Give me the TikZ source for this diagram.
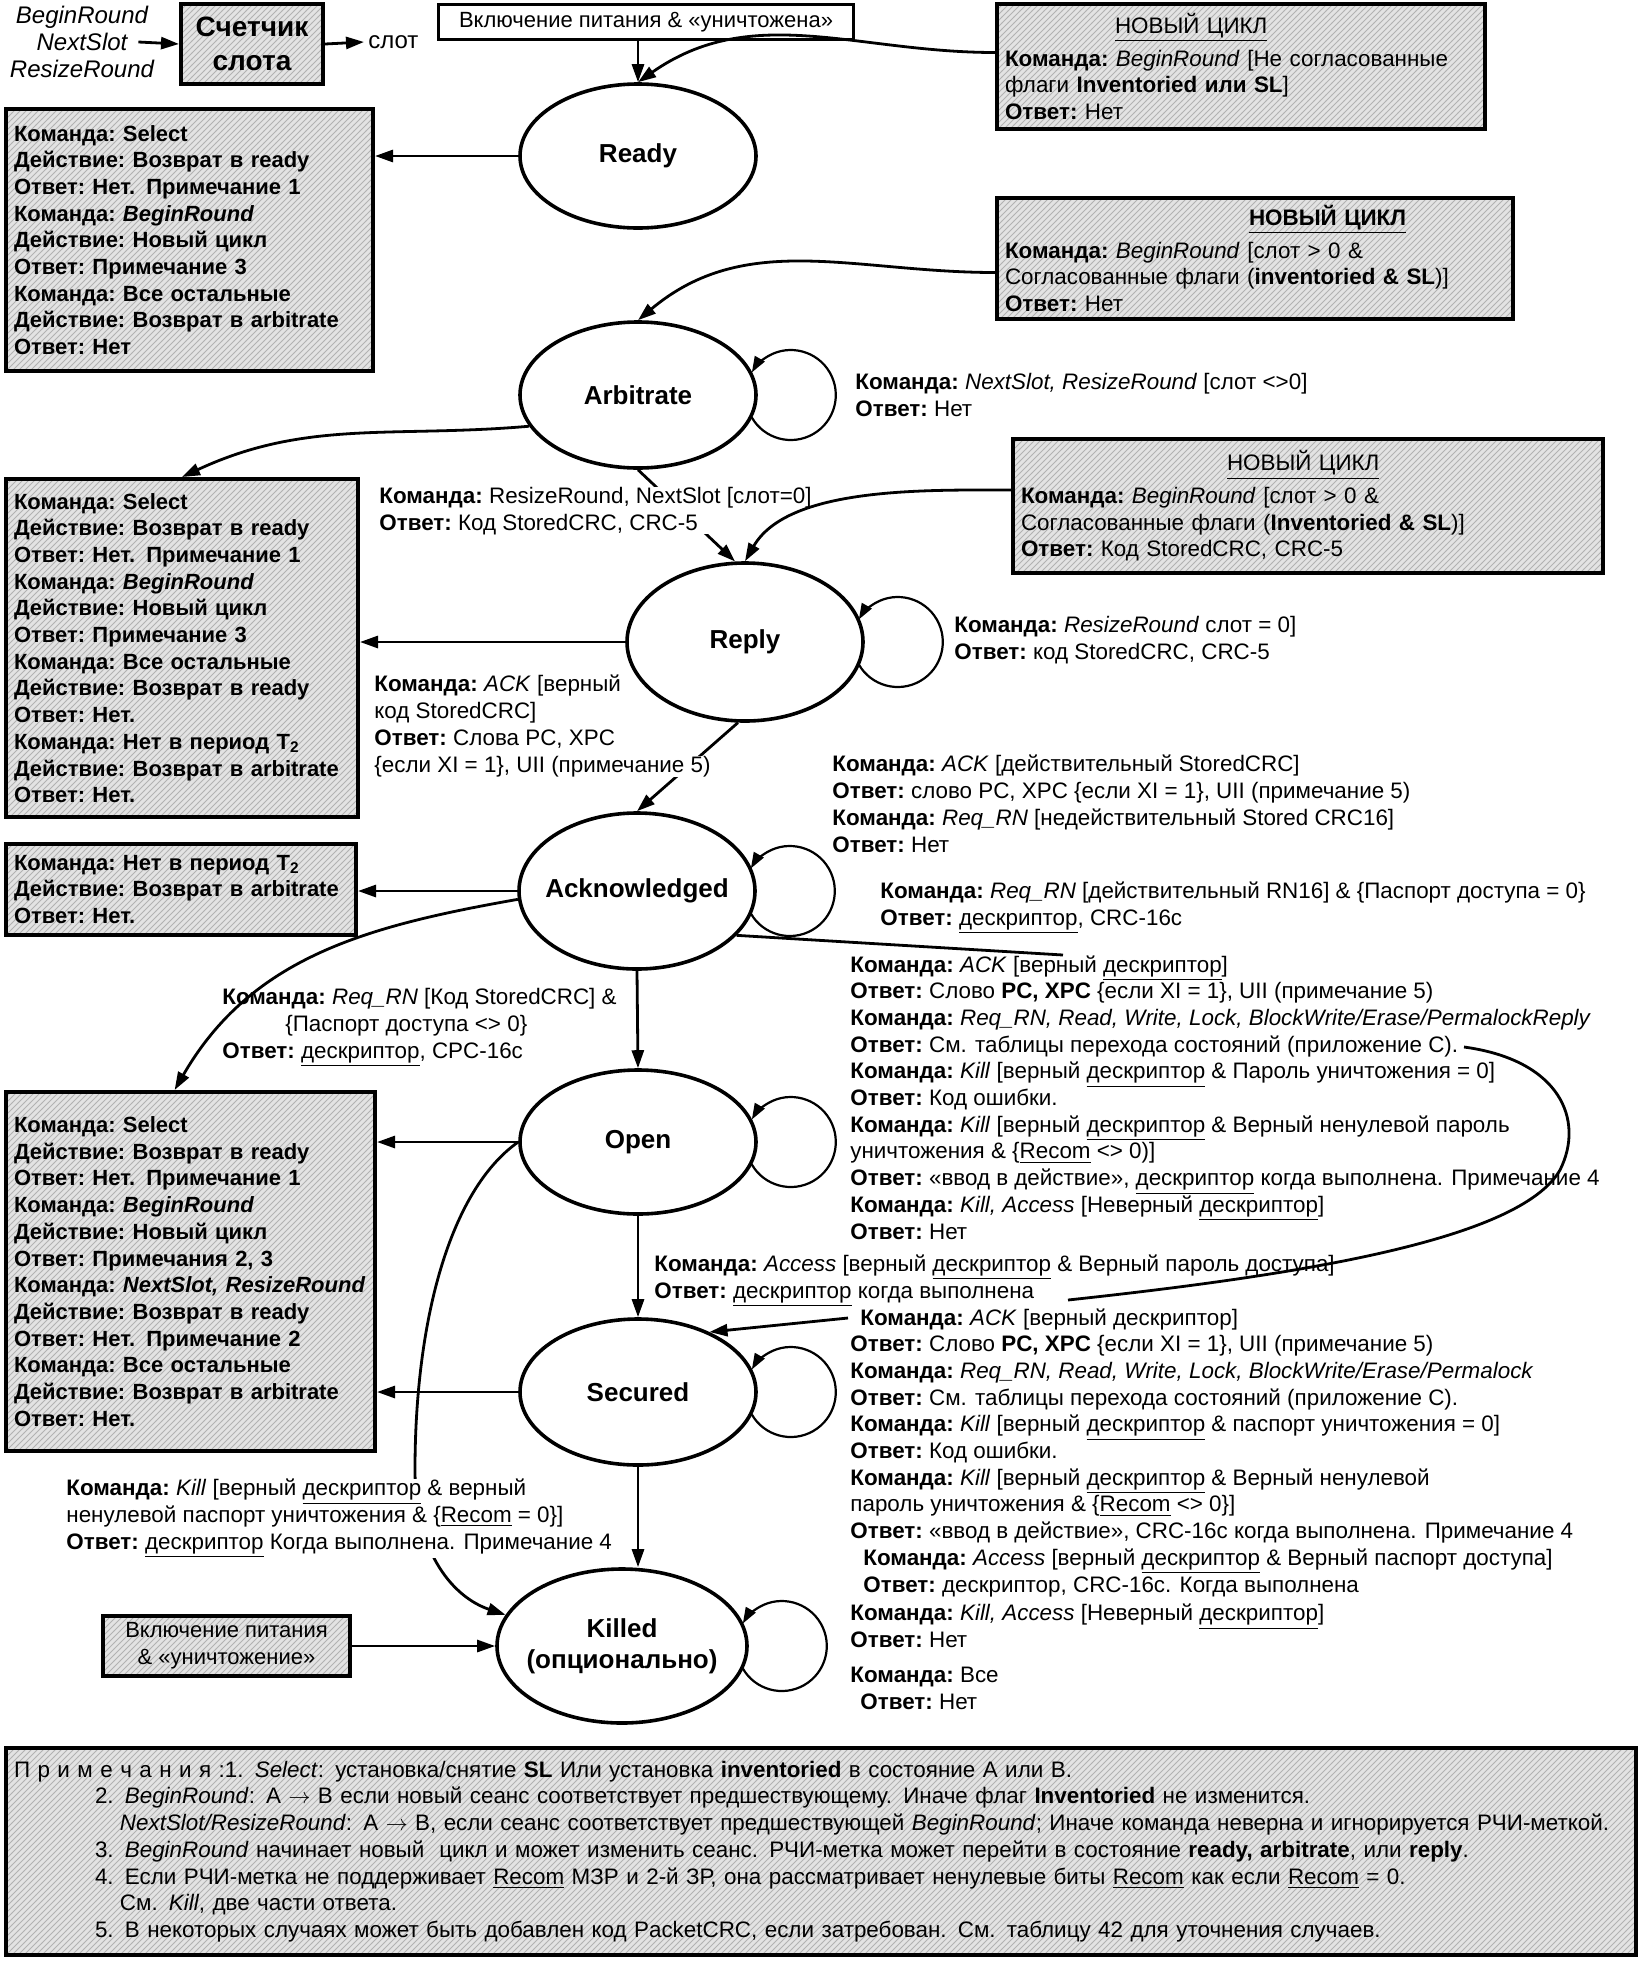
\documentclass[tikz,border=0pt]{standalone}
\usepackage{fontspec}
\setmainfont{Liberation Sans}
\usetikzlibrary{shapes.geometric, arrows.meta, patterns}

\newcommand{\lbl}{\fontsize{11.2}{13.35}\selectfont}
\newcommand{\sidefont}{\fontsize{11}{13.35}\selectfont\bfseries}
\newcommand{\kmd}{\textbf{Команда:}}
\newcommand{\otv}{\textbf{Ответ:}}
\newcommand{\dst}{\textbf{Действие:}}
\newcommand{\dsk}{\underline{дескриптор}}
\newcommand{\selfloop}[1]{\path [loopline] ([xshift=16.5pt]#1.east) ++(-150:45) arc[start angle=-150, end angle=150, radius=45];}

\tikzstyle{state} = [draw, ellipse, line width=1.8pt, font=\fontsize{13}{15.5}\selectfont\bfseries, align=center, inner sep=-6pt, minimum width=118pt, minimum height=73pt]
\tikzstyle{line} = [draw, -{Triangle[length=9pt,width=6pt]}, line width=1.4pt]
\tikzstyle{plain} = [draw, line width=1.4pt]
\tikzstyle{loopline} = [draw, -{Triangle[length=8pt,width=5.5pt]}, line width=1.1pt]
\tikzstyle{hatchbox} = [draw, rectangle, line width=2pt, preaction={fill=gray!22}, pattern=north east lines, pattern color=gray!60, inner xsep=4pt, inner ysep=0pt]
\tikzstyle{sidebox} = [hatchbox, align=left, font=\sidefont]
\tikzstyle{cyclebox} = [hatchbox, align=left, font=\lbl]
\tikzstyle{txt} = [align=left, anchor=base west, inner sep=0pt, font=\lbl]

\begin{document}
\begin{tikzpicture}[x=0.5pt, y=0.5pt]
\useasboundingbox (0,0) rectangle (1642,-1961);
% counter
\node [align=center, inner sep=0pt, font=\fontsize{12}{13.5}\selectfont\itshape] (inputs) at (82,-42) {BeginRound\\NextSlot\\ResizeRound};
\node [hatchbox, align=center, font=\fontsize{14}{17}\selectfont\bfseries, minimum width=71pt, minimum height=40pt, inner xsep=0pt] (counter) at (252,-44) {Счетчик\\слота};
\node [anchor=west, inner sep=2pt, font=\fontsize{12}{14}\selectfont] (slot) at (364,-42) {слот};
\node [draw, line width=1.8pt, font=\fontsize{11}{13}\selectfont, minimum width=207.5pt, minimum height=17.5pt, inner sep=0pt] (power) at (646,-22) {Включение питания \& «уничтожена»};
% states
\node [state, minimum height=72pt] (ready) at (638,-156) {Ready};
\node [state, node distance=119.5pt, below of=ready] (arbitrate) {Arbitrate};
\node [state, minimum height=79pt, node distance=123.5pt, below of=arbitrate, xshift=53.5pt] (reply) {Reply};
\node [state, minimum height=78pt, node distance=124.5pt, below of=reply, xshift=-54pt] (ack) {Acknowledged};
\node [state, minimum height=72pt, node distance=125.5pt, below of=ack, xshift=0.5pt] (open) {Open};
\node [state, node distance=125pt, below of=open] (secured) {Secured};
\node [state, minimum width=125pt, minimum height=77pt, node distance=127pt, below of=secured, xshift=-8pt] (killed) {Killed\\(опционально)};
% new round boxes
\node [cyclebox, text width=236pt, minimum height=62.5pt] (cycle1) at (1241,-66.5) {\hspace*{55pt}\underline{НОВЫЙ ЦИКЛ}\\[3pt]
\kmd\ \textit{BeginRound} [Не согласованные\\
флаги \textbf{Inventoried или SL}]\\
\otv\ Нет};
\node [cyclebox, text width=250pt, minimum height=60.5pt] (cycle2) at (1255,-258.5) {\hspace*{122pt}\textbf{\underline{НОВЫЙ ЦИКЛ}}\\[3pt]
\kmd\ \textit{BeginRound} [слот > 0 \&\\
Согласованные флаги (\textbf{inventoried \& SL})]\\
\otv\ Нет};
\node [cyclebox, text width=287pt, minimum height=67pt] (cycle3) at (1308,-506) {\hspace*{103pt}\underline{НОВЫЙ ЦИКЛ}\\[3pt]
\kmd\ \textit{BeginRound} [слот > 0 \&\\
Согласованные флаги (\textbf{Inventoried \& SL})]\\
\otv\ Код StoredCRC, CRC-5};
% side boxes
\node [sidebox, text width=175.5pt, minimum height=131pt] (side1) at (189.5,-240) {\kmd\ Select\\
\dst\ Возврат в ready\\
\otv\ Нет. Примечание 1\\
\kmd\ \textit{BeginRound}\\
\dst\ Новый цикл\\
\otv\ Примечание 3\\
\kmd\ Все остальные\\
\dst\ Возврат в arbitrate\\
\otv\ Нет};
\node [sidebox, text width=168pt, minimum height=169pt] (side2) at (182,-648) {\kmd\ Select\\
\dst\ Возврат в ready\\
\otv\ Нет. Примечание 1\\
\kmd\ \textit{BeginRound}\\
\dst\ Новый цикл\\
\otv\ Примечание 3\\
\kmd\ Все остальные\\
\dst\ Возврат в ready\\
\otv\ Нет.\\
\kmd\ Нет в период T\textsubscript{2}\\
\dst\ Возврат в arbitrate\\
\otv\ Нет.};
\node [sidebox, text width=167pt, minimum height=45.5pt] (side3) at (181,-889.5) {\kmd\ Нет в период T\textsubscript{2}\\
\dst\ Возврат в arbitrate\\
\otv\ Нет.};
\node [sidebox, text width=176.5pt, minimum height=179.5pt] (side4) at (190.5,-1271.5) {\kmd\ Select\\
\dst\ Возврат в ready\\
\otv\ Нет. Примечание 1\\
\kmd\ \textit{BeginRound}\\
\dst\ Новый цикл\\
\otv\ Примечания 2, 3\\
\kmd\ \textit{NextSlot, ResizeRound}\\
\dst\ Возврат в ready\\
\otv\ Нет. Примечание 2\\
\kmd\ Все остальные\\
\dst\ Возврат в arbitrate\\
\otv\ Нет.};
\node [hatchbox, align=center, font=\fontsize{11}{13.5}\selectfont, minimum width=123.5pt, minimum height=30pt] (killpower) at (226.5,-1646) {Включение питания\\\& «уничтожение»};
% notes
\node [cyclebox, text width=807pt, minimum height=103.5pt] (notes) at (821,-1851.5) {П р и м е ч а н и я :1. \textit{Select}: установка/снятие \textbf{SL} Или установка \textbf{inventoried} в состояние A или B.\\
\hspace*{40.5pt}2. \textit{BeginRound}: A $\rightarrow$ B если новый сеанс соответствует предшествующему. Иначе флаг \textbf{Inventoried} не изменится.\\
\hspace*{53pt}\textit{NextSlot/ResizeRound}: A $\rightarrow$ B, если сеанс соответствует предшествующей \textit{BeginRound}; Иначе команда неверна и игнорируется РЧИ-меткой.\\
\hspace*{40.5pt}3. \textit{BeginRound} начинает новый\ \ цикл и может изменить сеанс. РЧИ-метка может перейти в состояние \textbf{ready, arbitrate}, или \textbf{reply}.\\
\hspace*{40.5pt}4. Если РЧИ-метка не поддерживает \underline{Recom} МЗР и 2-й ЗР, она рассматривает ненулевые биты \underline{Recom} как если \underline{Recom} = 0.\\
\hspace*{53pt}См. \textit{Kill}, две части ответа.\\
\hspace*{40.5pt}5. В некоторых случаях может быть добавлен код PacketCRC, если затребован. См. таблицу 42 для уточнения случаев.};
% texts (anchored at the baseline of the last line)
\node [txt] (arbloop) at (855,-416) {\kmd\ \textit{NextSlot, ResizeRound} [слот <>0]\\\otv\ Нет};
\node [txt] (reploop) at (954,-659) {\kmd\ \textit{ResizeRound} слот = 0]\\\otv\ код StoredCRC, CRC-5};
\node [txt] (repack) at (374,-745) {\kmd\ \textit{ACK} [верный\\код StoredCRC]\\\otv\ Слова PC, XPC};
\node [txt] (ackr1) at (832,-852) {\kmd\ \textit{ACK} [действительный StoredCRC]\\
\otv\ слово PC, XPC \{если XI = 1\}, UII (примечание 5)\\
\kmd\ \textit{Req\_RN} [недействительный Stored CRC16]\\
\otv\ Нет};
\node [txt] (ackr2) at (880,-925) {\kmd\ \textit{Req\_RN} [действительный RN16] \& \{Паспорт доступа = 0\}\\
\otv\ \dsk, CRC-16c};
\node [txt] (ackopen) at (222,-1058) {\kmd\ \textit{Req\_RN} [Код StoredCRC] \&\\
\hspace*{31.5pt}\{Паспорт доступа <> 0\}\\
\otv\ \dsk, CPC-16c};
\node [txt] (openloop) at (850,-1239) {\kmd\ \textit{ACK} [верный \dsk]\\
\otv\ Слово \textbf{PC, XPC} \{если XI = 1\}, UII (примечание 5)\\
\kmd\ \textit{Req\_RN, Read, Write, Lock, BlockWrite/Erase/PermalockReply}\\
\otv\ См. таблицы перехода состояний (приложение C).\\
\kmd\ \textit{Kill} [верный \dsk\ \& Пароль уничтожения = 0]\\
\otv\ Код ошибки.\\
\kmd\ \textit{Kill} [верный \dsk\ \& Верный ненулевой пароль\\
уничтожения \& \{\underline{Recom} <> 0)]\\
\otv\ «ввод в действие», \dsk\ когда выполнена. Примечание 4\\
\kmd\ \textit{Kill, Access} [Неверный \dsk]\\
\otv\ Нет};
\node [txt] (opensec) at (654,-1298) {\kmd\ \textit{Access} [верный \dsk\ \& Верный пароль доступа]\\
\otv\ \dsk\ когда выполнена};
\node [txt] (secloop) at (850,-1592) {\hspace*{5pt}\kmd\ \textit{ACK} [верный дескриптор]\\
\otv\ Слово \textbf{PC, XPC} \{если XI = 1\}, UII (примечание 5)\\
\kmd\ \textit{Req\_RN, Read, Write, Lock, BlockWrite/Erase/Permalock}\\
\otv\ См. таблицы перехода состояний (приложение C).\\
\kmd\ \textit{Kill} [верный \dsk\ \& паспорт уничтожения = 0]\\
\otv\ Код ошибки.\\
\kmd\ \textit{Kill} [верный \dsk\ \& Верный ненулевой\\
пароль уничтожения \& \{\underline{Recom} <> 0\}]\\
\otv\ «ввод в действие», CRC-16c когда выполнена. Примечание 4\\
\hspace*{6.5pt}\kmd\ \textit{Access} [верный \dsk\ \& Верный паспорт доступа]\\
\hspace*{6.5pt}\otv\ дескриптор, CRC-16c. Когда выполнена};
\node [txt] (killloop) at (850,-1709) {\kmd\ \textit{Kill, Access} [Неверный \dsk]\\
\otv\ Нет\\[4pt]
\kmd\ Все\\
\hspace*{5pt}\otv\ Нет};
% coordinates
\coordinate (as1) at (1063,-955);
\coordinate (as2) at (1464,-1047);
\coordinate (as3) at (1068,-1300);
\coordinate (as4) at (848,-1318);
%arrows
\path [line] ([xshift=-8pt]inputs.east) -- (counter.west);
\path [line] (counter.east) -- (slot.west);
\path [line] (ready.north |- power.south) -- (ready.north);
\path [line] ([yshift=7pt]cycle1.west) to[out=180,in=35] (ready.north);
\path [line] (ready.west) -- (ready.west -| side1.east);
\path [line] ([yshift=-7pt]cycle2.west) to[out=180,in=40] (arbitrate.north);
\path [line] (arbitrate.196) to[out=185,in=25] (side2.north);
\path [line] (arbitrate.south) -- (reply.97);
\node [txt, fill=white] (arbrep) at (379,-530) {\kmd\ ResizeRound, NextSlot [слот=0]\\\otv\ Код StoredCRC, CRC-5};
\path [line] ([yshift=8pt]cycle3.west) to[out=180,in=60,looseness=0.8] (reply.north);
\path [line] (reply.west) -- (reply.west -| side2.east);
\path [line] (reply.-95) -- (ack.north);
\node [txt, fill=white] (repackb) at (374,-772) {\{если XI = 1\}, UII (примечание 5)};
\path [line] (ack.west) -- (ack.west -| side3.east);
\path [line] (ack.184) to[out=190,in=60] (side4.95);
\path [line] (ack.south) -- (open.north);
\path [plain] (ack.-24) -- (as1);
\path [plain] (as2) .. controls (1560,-1060) and (1585,-1120) .. (1560,-1170) .. controls (1520,-1240) and (1300,-1275) .. (as3);
\path [line] (as4) -- (secured.40);
\path [line] (open.west) -- (open.west -| side4.east);
\path [line] (open.west) .. controls (450,-1190) and (415,-1320) .. (415,-1470) .. controls (415,-1555) and (455,-1598) .. (killed.165);
\node [txt, fill=white] (openkill) at (66,-1549) {\kmd\ \textit{Kill} [верный \dsk\ \& верный\\
ненулевой паспорт уничтожения \& \{\underline{Recom} = 0\}]\\
\otv\ \dsk\ Когда выполнена. Примечание 4};
\path [line] (open.south) -- (secured.north);
\path [line] (secured.west) -- (secured.west -| side4.east);
\path [line] (secured.south) -- (secured.south |- killed.north);
\path [line] (killpower.east) -- (killed.west);
% loops
\selfloop{arbitrate}
\selfloop{reply}
\selfloop{ack}
\selfloop{open}
\selfloop{secured}
\selfloop{killed}
\end{tikzpicture}
\end{document}
